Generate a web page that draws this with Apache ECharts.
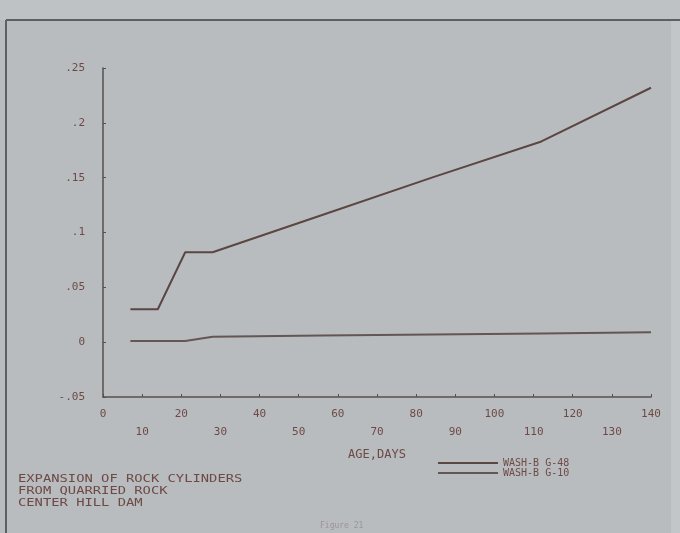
<!DOCTYPE html>
<html>
<head>
<meta charset="utf-8">
<script src="https://cdn.jsdelivr.net/npm/echarts@6/dist/echarts.min.js"></script>
<style>
html,body{margin:0;padding:0;background:#b9bcbf;}
#chart{width:680px;height:533px;}
</style>
</head>
<body>
<div id="chart"></div>
<script>
// Data
var days = [7, 14, 21, 28, 56, 84, 112, 140];
var seriesNames = ['WASH-B G-48', 'WASH-B G-10'];
var g48 = [0.030, 0.030, 0.082, 0.082, 0.116, 0.150, 0.183, 0.232];
var g10 = [0.001, 0.001, 0.001, 0.005, 0.006, 0.007, 0.008, 0.009];
var titleLines = ['EXPANSION OF ROCK CYLINDERS', 'FROM QUARRIED ROCK', 'CENTER HILL DAM'];
var xAxisTitle = 'AGE,DAYS';
var figureCaption = 'Figure 21';

var mono = 'DejaVu Sans Mono';
var txt = '#6d4a46';
var axisCol = '#56504f';

function pairs(xs, ys) { return xs.map(function (x, i) { return [x, ys[i]]; }); }

var chart = echarts.init(document.getElementById('chart'), null, {renderer: 'canvas'});
var graphics = [
  {type: 'rect', left: 0, top: 0, shape: {width: 680, height: 20}, style: {fill: '#bfc2c4'}, silent: true},
  {type: 'rect', left: 671, top: 20, shape: {width: 9, height: 513}, style: {fill: '#c3c6c8'}, silent: true},
  {type: 'line', shape: {x1: 6, y1: 20, x2: 680, y2: 20}, style: {stroke: '#5f5f62', lineWidth: 2}, silent: true},
  {type: 'line', shape: {x1: 6, y1: 20, x2: 6, y2: 533}, style: {stroke: '#5f5f62', lineWidth: 2}, silent: true},
  {type: 'text', x: 320, y: 522, style: {text: figureCaption, font: '8px ' + mono, fill: '#9a9597'}, silent: true}
];
titleLines.forEach(function (t, i) {
  graphics.push({type: 'text', x: 18, y: 474 + i * 12, scaleX: 1.38, style: {text: t, font: '10px "' + mono + '"', fill: txt}, silent: true});
});

chart.setOption({
  backgroundColor: '#b9bcbf',
  animation: false,
  grid: {left: 103, right: 29, top: 68, bottom: 136},
  legend: {
    orient: 'vertical', left: 438, top: 458, itemWidth: 60, itemHeight: 2, itemGap: 0, padding: 0,
    icon: 'rect',
    textStyle: {fontFamily: mono, fontSize: 10, color: txt, lineHeight: 8},
    data: seriesNames
  },
  xAxis: {
    type: 'value', min: 0, max: 140, interval: 10,
    name: xAxisTitle, nameLocation: 'middle', nameGap: 52,
    nameTextStyle: {fontFamily: mono, fontSize: 12, color: txt},
    axisLine: {show: true, onZero: false, lineStyle: {color: axisCol, width: 1.5}},
    axisTick: {show: true, inside: true, length: 3, lineStyle: {color: axisCol}},
    splitLine: {show: false},
    axisLabel: {
      fontFamily: mono, fontSize: 11, color: txt, margin: 8, lineHeight: 18,
      formatter: function (v) { return (Math.round(v / 10) % 2 === 1) ? '\n' + v : '' + v; }
    }
  },
  yAxis: {
    type: 'value', min: -0.05, max: 0.25, interval: 0.05,
    axisLine: {show: true, onZero: false, lineStyle: {color: axisCol, width: 1.5}},
    axisTick: {show: true, inside: true, length: 3, lineStyle: {color: axisCol}},
    splitLine: {show: false},
    axisLabel: {
      fontFamily: mono, fontSize: 11, color: txt, margin: 18, padding: [8, 0, 0, 0],
      formatter: function (v) { return String(+v.toFixed(2)).replace('0.', '.'); }
    }
  },
  series: [
    {name: seriesNames[0], type: 'line', symbol: 'none', data: pairs(days, g48),
     lineStyle: {color: '#5a4643', width: 2}, itemStyle: {color: '#5a4643'}},
    {name: seriesNames[1], type: 'line', symbol: 'none', data: pairs(days, g10),
     lineStyle: {color: '#635654', width: 2}, itemStyle: {color: '#635654'}}
  ],
  graphic: graphics
});
</script>
</body>
</html>
